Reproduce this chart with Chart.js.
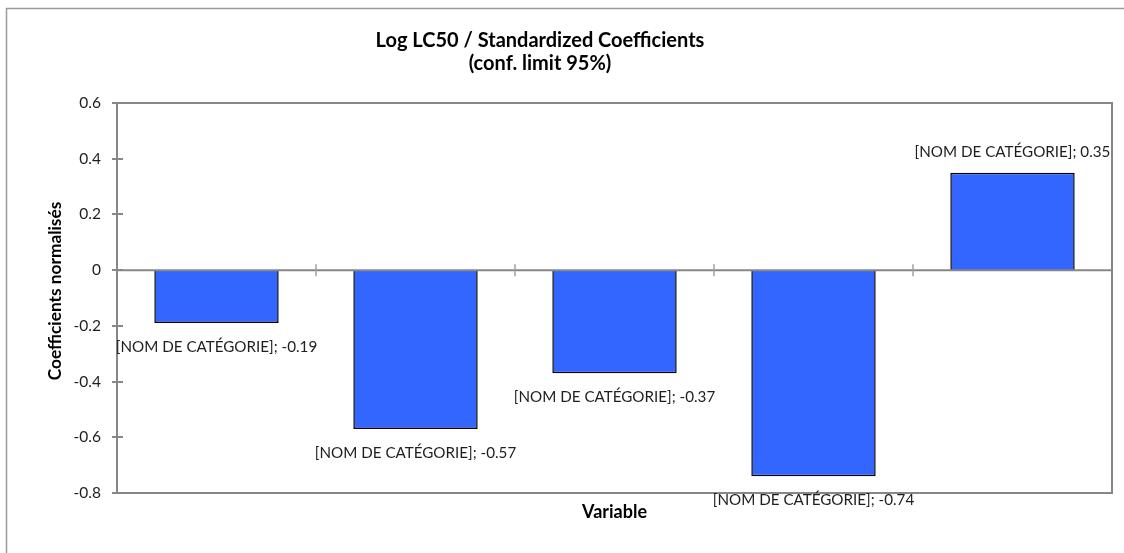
<!DOCTYPE html>
<html>
<head>
<meta charset="utf-8">
<script src="https://cdn.jsdelivr.net/npm/chart.js@4.4.1/dist/chart.umd.min.js"></script>
<style>
  html, body { margin: 0; padding: 0; background: #ffffff; }
  #wrap { width: 1124px; height: 553px; position: relative; }
</style>
</head>
<body>
<div id="wrap"><canvas id="c" width="1124" height="553"></canvas></div>
<script>
// ---- data ----
const categories = ["[NOM DE CATÉGORIE]", "[NOM DE CATÉGORIE]", "[NOM DE CATÉGORIE]", "[NOM DE CATÉGORIE]", "[NOM DE CATÉGORIE]"];
const coefficients = [-0.19, -0.57, -0.37, -0.74, 0.35];
const yTicks = [0.6, 0.4, 0.2, 0, -0.2, -0.4, -0.6, -0.8];
const titleLines = ["Log LC50 / Standardized Coefficients", "(conf. limit 95%)"];
const yTitle = "Coefficients normalisés";
const xTitle = "Variable";

const FONT = "Lato, 'Open Sans', sans-serif";
const GREY = "#878787";

const decor = {
  id: 'decor',
  beforeDraw(chart) {
    const ctx = chart.ctx;
    ctx.save();
    ctx.fillStyle = '#ffffff';
    ctx.fillRect(0, 0, chart.width, chart.height);
    // outer chart border
    ctx.strokeStyle = '#9a9a9a';
    ctx.lineWidth = 1.5;
    ctx.strokeRect(6.5, 8.5, chart.width + 20, chart.height + 20);
    ctx.restore();
  },
  afterDatasetsDraw(chart) {
    const ctx = chart.ctx;
    const a = chart.chartArea;
    const y = chart.scales.y;
    const x = chart.scales.x;
    ctx.save();
    ctx.strokeStyle = GREY;
    ctx.lineWidth = 2;
    // plot frame
    ctx.strokeRect(a.left, a.top, a.right - a.left, a.bottom - a.top);
    // zero line
    const y0 = y.getPixelForValue(0);
    ctx.beginPath();
    ctx.moveTo(a.left, y0);
    ctx.lineTo(a.right, y0);
    ctx.stroke();
    // y-axis ticks
    yTicks.forEach(v => {
      const py = Math.round(y.getPixelForValue(v));
      ctx.beginPath();
      ctx.moveTo(a.left - 5, py);
      ctx.lineTo(a.left + 6, py);
      ctx.stroke();
    });
    // category boundary ticks on the zero line
    ctx.strokeStyle = '#a0a0a0';
    ctx.lineWidth = 1.5;
    for (let i = 1; i < categories.length; i++) {
      const px = (x.getPixelForValue(i - 1) + x.getPixelForValue(i)) / 2;
      ctx.beginPath();
      ctx.moveTo(px, y0 - 6);
      ctx.lineTo(px, y0 + 6);
      ctx.stroke();
    }
    // data labels
    ctx.fillStyle = '#1e1e1e';
    ctx.font = "15.2px " + FONT;
    ctx.textAlign = 'center';
    ctx.textBaseline = 'middle';
    coefficients.forEach((v, i) => {
      const px = x.getPixelForValue(i);
      const py = y.getPixelForValue(v);
      const ly = v < 0 ? py + 24 : py - 21;
      ctx.fillText(categories[i] + "; " + v.toFixed(2), px, ly);
    });
    // titles
    ctx.fillStyle = '#000000';
    ctx.font = "bold 20px " + FONT;
    ctx.fillText(titleLines[0], 540, 41);
    ctx.fillText(titleLines[1], 540, 64);
    ctx.font = "bold 18px " + FONT;
    ctx.fillText(xTitle, (a.left + a.right) / 2, 512);
    ctx.font = "bold 17.3px " + FONT;
    ctx.translate(55, 291);
    ctx.rotate(-Math.PI / 2);
    ctx.fillText(yTitle, 0, 0);
    ctx.restore();
  }
};

new Chart(document.getElementById('c'), {
  type: 'bar',
  data: {
    labels: categories,
    datasets: [{
      data: coefficients,
      backgroundColor: '#3366FF',
      borderColor: '#000000',
      borderWidth: 1.5,
      categoryPercentage: 1.0,
      barPercentage: 0.625
    }]
  },
  options: {
    responsive: false,
    animation: false,
    devicePixelRatio: 1,
    layout: { padding: { left: 0, top: 103, right: 12, bottom: 60 } },
    plugins: { legend: { display: false }, title: { display: false }, tooltip: { enabled: false } },
    scales: {
      x: { display: false },
      y: {
        min: -0.8, max: 0.6,
        afterFit(scale) { scale.width = 117; },
        afterBuildTicks(scale) { scale.ticks = yTicks.map(v => ({ value: v })); },
        grid: { display: false, drawTicks: false },
        border: { display: false },
        ticks: {
          padding: 16,
          color: '#1e1e1e',
          font: { family: FONT, size: 15.5 },
          callback: v => String(Number(Number(v).toFixed(1)))
        }
      }
    }
  },
  plugins: [decor]
});
</script>
</body>
</html>
